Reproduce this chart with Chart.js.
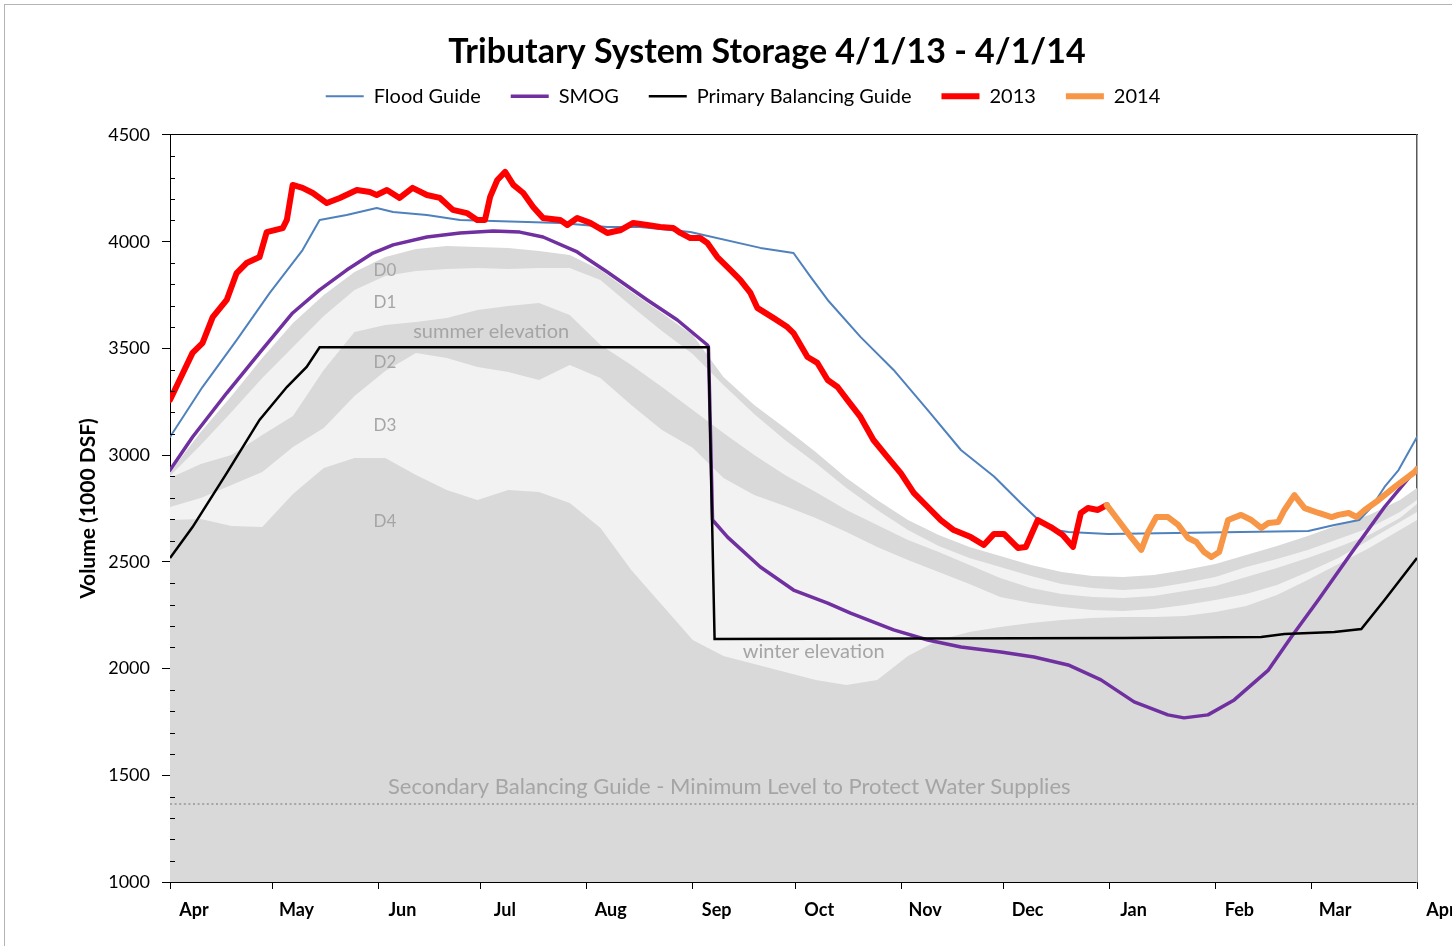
<!DOCTYPE html>
<html><head><meta charset="utf-8">
<script src="https://cdn.jsdelivr.net/npm/chart.js@4.4.1/dist/chart.umd.min.js"></script>
<style>
html,body{margin:0;padding:0;background:#fff;overflow:hidden;width:1452px;height:946px;}
#frame{position:absolute;left:4px;top:4px;border:1px solid #b4b4b4;width:1524px;height:990px;background:#fff;}
canvas{display:block;}
</style></head><body>
<div id="frame"><canvas id="c" width="1524" height="990" style="width:1524px;height:990px"></canvas></div>
<script>
// ---- axis categories (days since Apr 1 2013) ----
const monthTickDays = [0,30,61,91,122,153,183,214,244,275,306,334,365];
const monthLabels = ['Apr','May','Jun','Jul','Aug','Sep','Oct','Nov','Dec','Jan','Feb','Mar','Apr'];
const yMajorTicks = [1000,1500,2000,2500,3000,3500,4000,4500];

// ---- Flood Guide ----
const floodDays = [0,9.5,19.5,29.2,38.8,43.8,51.7,60.5,65.3,75.2,84.9,94.6,104.5,114.2,128,137.6,152.3,172.8,182.5,187.5,192.5,202.1,211.8,221.8,231.5,241.2,249,254,258,263,274.6,333.2,340.8,348.1,351.7,355.5,359.6,365];
const floodVals = [3085,3319,3539,3760,3961,4102,4125,4158,4139,4125,4102,4097,4092,4088,4069,4069,4045,3971,3947,3835,3727,3554,3399,3211,3024,2900,2776,2700,2652,2640,2630,2645,2673,2696,2757,2851,2930,3085];

// ---- SMOG ----
const smogDays = [0,6.6,16.6,26.2,35.9,43.8,51.7,59.4,65.3,75.2,84.9,94.6,102.4,109.2,119.2,128,139.7,148.5,157.3,157.6,158.2,158.8,163.2,172.8,182.5,192.5,199.2,211.8,221.8,231.5,243.2,252.9,262.9,272.5,282.2,292.1,296.8,303.8,311.5,321.5,328.2,336.1,345.8,355.5,365];
const smogVals = [2930,3085,3291,3479,3666,3774,3867,3947,3985,4022,4041,4050,4045,4022,3952,3858,3727,3633,3516,3507,3104,2696,2616,2476,2368,2307,2260,2181,2134,2101,2078,2054,2017,1947,1844,1783,1769,1783,1853,1993,2148,2321,2542,2757,2940];

// ---- Primary Balancing Guide ----
const pbgDays = [0,6.6,16.6,26.2,34.2,40,43.8,157.6,159.4,279.3,319.4,326.2,340.8,348.7,355.5,365];
const pbgVals = [2518,2663,2916,3165,3319,3413,3505,3505,2139,2143,2148,2162,2171,2185,2321,2518];

// ---- 2013 storage ----
const days2013 = [0,2.8,6.6,9.5,12.5,16.6,19.5,22.4,26.2,28.3,33,34.2,35.9,38.8,41.8,45.9,49.7,54.7,58.5,60.5,63.5,67.2,71,75.2,79,82.8,86.9,89.9,92.2,93.7,95.8,98.1,100.5,103.4,106.3,109.2,114.2,116.3,119.2,123,128,132,135.6,139.7,143.5,147.3,149.4,152.3,155.2,157.3,160.2,164,166.9,169.9,171.9,176.6,180.7,182.5,186.6,189.5,192.5,195.4,198.3,202.1,205.9,210,213.9,217.7,221.8,225.6,229.4,234.4,238.2,241.2,244.1,248.2,250.5,254,257.8,261.3,264.3,266.6,268.7,271.6,274.2];
const vals2013 = [3259,3352,3479,3525,3647,3727,3853,3900,3928,4045,4064,4102,4266,4252,4228,4181,4205,4242,4233,4219,4242,4205,4252,4219,4205,4149,4134,4102,4102,4210,4289,4327,4266,4228,4163,4111,4102,4078,4111,4088,4041,4055,4088,4078,4069,4064,4041,4017,4017,3994,3928,3868,3821,3760,3690,3643,3600,3572,3460,3432,3352,3319,3258,3179,3071,2991,2916,2823,2757,2696,2649,2616,2579,2631,2631,2565,2570,2696,2663,2626,2570,2729,2752,2743,2766];

// ---- 2014 storage ----
const days2014 = [274.2,277.5,281.3,284.3,286.3,288.7,292.1,295.1,298,300.4,302.7,304.8,307.1,309.7,313.5,316.5,319.4,321.5,324.4,326.2,329.1,332.1,336.2,340,342,345,347.3,349.7,353.8,358.5,364.3,365];
const vals2014 = [2766,2696,2616,2556,2640,2710,2710,2673,2612,2593,2546,2523,2546,2696,2720,2696,2659,2682,2687,2743,2813,2752,2729,2710,2720,2729,2710,2743,2790,2851,2921,2935];

// ---- Secondary Balancing Guide ----
const secondaryDays = [0,365];
const secondaryVals = [1365,1365];

// ---- drought band boundaries (tops of D0..D4 zones) ----
const bandDays = [0,9,18,27,36,45,54,63,72,81,90,99,108,117,126,135,144,153,162,171,180,189,198,207,216,225,234,243,252,261,270,279,288,297,306,315,324,333,342,351,360,365];
const d0TopVals = [2921,3108,3277,3455,3619,3750,3858,3928,3966,3980,3975,3971,3956,3938,3867,3764,3666,3563,3366,3235,3127,3015,2893,2790,2696,2626,2570,2527,2485,2452,2434,2429,2438,2462,2490,2532,2574,2621,2673,2720,2790,2846];
const d1TopVals = [2902,3048,3202,3361,3507,3652,3774,3839,3863,3872,3877,3872,3877,3877,3821,3699,3582,3474,3329,3193,3071,2963,2846,2743,2649,2574,2518,2476,2434,2396,2378,2368,2378,2401,2429,2476,2513,2556,2607,2659,2734,2790];
const d2TopVals = [2893,2958,3001,3094,3183,3399,3577,3610,3624,3643,3680,3699,3713,3657,3516,3422,3319,3212,3104,3001,2907,2827,2743,2673,2602,2546,2485,2424,2378,2349,2335,2331,2340,2363,2387,2429,2471,2518,2570,2626,2705,2771];
const d3TopVals = [2757,2799,2860,2921,3038,3127,3277,3394,3479,3455,3413,3390,3352,3422,3361,3235,3118,3034,2893,2813,2762,2705,2640,2570,2509,2452,2396,2335,2307,2288,2274,2270,2279,2298,2321,2349,2392,2452,2518,2602,2687,2734];
const d4TopVals = [2696,2701,2668,2663,2818,2940,2987,2987,2907,2837,2790,2837,2827,2776,2659,2462,2298,2134,2059,2021,1984,1946,1923,1946,2059,2134,2171,2195,2214,2228,2237,2242,2242,2246,2265,2293,2345,2415,2490,2565,2649,2696];

// ---- in-plot text annotations (data coordinates) ----
const noteTexts = ['D0','D1','summer elevation','D2','D3','D4','winter elevation','Secondary Balancing Guide - Minimum Level to Protect Water Supplies'];
const noteDays  = [62.9,62.9,94,62.9,62.9,62.9,188.4,163.7];
const noteVals  = [3867,3713,3577,3436,3137,2691,2078,1445];
const noteSizes = [17,17,20,17,17,17,20,22];

const pts = (xs, ys) => xs.map((x, i) => ({x: x, y: ys[i]}));

Chart.defaults.font.family = "Lato, 'Open Sans', sans-serif";

const lineBase = {pointRadius: 0, pointHoverRadius: 0, fill: false, tension: 0, borderJoinStyle: 'round', borderCapStyle: 'round'};
const bandBase = {pointRadius: 0, pointHoverRadius: 0, fill: 'start', tension: 0, borderWidth: 0, borderColor: 'rgba(0,0,0,0)', label: ''};

const datasets = [
  Object.assign({}, lineBase, {label: 'Flood Guide', data: pts(floodDays, floodVals), borderColor: '#4f81bd', borderWidth: 2, order: 4}),
  Object.assign({}, lineBase, {label: 'SMOG', data: pts(smogDays, smogVals), borderColor: '#7030a0', borderWidth: 3.5, order: 3}),
  Object.assign({}, lineBase, {label: 'Primary Balancing Guide', data: pts(pbgDays, pbgVals), borderColor: '#000000', borderWidth: 2.5, order: 2, borderCapStyle: 'butt', borderJoinStyle: 'miter'}),
  Object.assign({}, lineBase, {label: '2013', data: pts(days2013, vals2013), borderColor: '#ff0000', borderWidth: 6, order: 1}),
  Object.assign({}, lineBase, {label: '2014', data: pts(days2014, vals2014), borderColor: '#f79646', borderWidth: 6, order: 0}),
  Object.assign({}, lineBase, {label: '', data: pts(secondaryDays, secondaryVals), borderColor: '#a6a6a6', borderWidth: 2, borderDash: [2, 2.6], borderCapStyle: 'butt', order: 5}),
  Object.assign({}, bandBase, {data: pts(bandDays, d0TopVals), backgroundColor: '#d9d9d9', order: 15}),
  Object.assign({}, bandBase, {data: pts(bandDays, d1TopVals), backgroundColor: '#f2f2f2', order: 14}),
  Object.assign({}, bandBase, {data: pts(bandDays, d2TopVals), backgroundColor: '#d9d9d9', order: 13}),
  Object.assign({}, bandBase, {data: pts(bandDays, d3TopVals), backgroundColor: '#f2f2f2', order: 12}),
  Object.assign({}, bandBase, {data: pts(bandDays, d4TopVals), backgroundColor: '#d9d9d9', order: 11})
];

const notesPlugin = {
  id: 'notes',
  afterDatasetsDraw(chart) {
    const ctx = chart.ctx, xs = chart.scales.x, ys = chart.scales.y;
    ctx.save();
    ctx.fillStyle = '#a5a5a5';
    ctx.textAlign = 'center';
    ctx.textBaseline = 'middle';
    noteTexts.forEach((t, i) => {
      ctx.font = noteSizes[i] + "px Lato, 'Open Sans', sans-serif";
      ctx.fillText(t, xs.getPixelForValue(noteDays[i]), ys.getPixelForValue(noteVals[i]));
    });
    ctx.restore();
  }
};

const minorTickPlugin = {
  id: 'minorTicks',
  afterDraw(chart) {
    const ys = chart.scales.y, ctx = chart.ctx, left = chart.chartArea.left;
    ctx.save();
    ctx.strokeStyle = '#000';
    ctx.lineWidth = 1;
    for (let v = ys.min + 100; v < ys.max; v += 100) {
      if (v % 500 === 0) continue;
      const py = Math.round(ys.getPixelForValue(v)) + 0.5;
      ctx.beginPath();
      ctx.moveTo(left, py);
      ctx.lineTo(left + 5, py);
      ctx.stroke();
    }
    ctx.restore();
  }
};

const legendShift = {
  id: 'legendShift',
  afterLayout(chart) { if (chart.legend) chart.legend.left = chart.legend.left - 48; }
};

new Chart(document.getElementById('c'), {
  type: 'line',
  data: {datasets: datasets},
  plugins: [notesPlugin, minorTickPlugin, legendShift],
  options: {
    responsive: false,
    animation: false,
    devicePixelRatio: 1,
    events: [],
    layout: {padding: 0},
    plugins: {
      title: {display: true, text: 'Tributary System Storage 4/1/13 - 4/1/14', color: '#000',
        font: {size: 34, weight: 'bold', lineHeight: 0.27}, padding: {top: 42, bottom: 0}},
      legend: {display: true, position: 'top',
        labels: {color: '#000', font: {size: 20}, usePointStyle: true, pointStyle: 'line', pointStyleWidth: 38, padding: 30,
          filter: item => !!item.text, sort: (a, b) => a.datasetIndex - b.datasetIndex}},
      tooltip: {enabled: false}
    },
    scales: {
      x: {type: 'linear', position: 'bottom', min: 0, max: 365,
        afterBuildTicks: s => { s.ticks = monthTickDays.map(v => ({value: v})); },
        afterFit: s => { s.height = 113; },
        ticks: {autoSkip: false, maxRotation: 0, minRotation: 0, labelOffset: 24, padding: 10, color: '#000',
          font: {size: 18, weight: 'bold'}, callback: v => monthLabels[monthTickDays.indexOf(v)]},
        grid: {display: true, drawOnChartArea: false, drawTicks: true, tickLength: 7, color: '#000'},
        border: {display: true, color: '#000', width: 1}},
      xTop: {type: 'linear', position: 'top', min: 0, max: 365,
        afterFit: s => { s.height = 18.8; },
        ticks: {display: false}, grid: {display: false},
        border: {display: true, color: '#000', width: 1}},
      y: {type: 'linear', position: 'left', min: 1000, max: 4500,
        afterBuildTicks: s => { s.ticks = yMajorTicks.map(v => ({value: v})); },
        afterFit: s => { s.width = 165; },
        ticks: {padding: 12, color: '#000', font: {size: 18}, callback: v => String(v)},
        grid: {display: true, drawOnChartArea: false, drawTicks: true, tickLength: 8, color: '#000'},
        border: {display: true, color: '#000', width: 1},
        title: {display: true, text: 'Volume (1000 DSF)', color: '#000', font: {size: 21, weight: 'bold'}, padding: {top: 71, bottom: 0}}},
      yRight: {type: 'linear', position: 'right', min: 1000, max: 4500,
        afterFit: s => { s.width = 112; },
        ticks: {display: false}, grid: {display: false},
        border: {display: true, color: '#595959', width: 1.5}}
    }
  }
});
</script></body></html>
